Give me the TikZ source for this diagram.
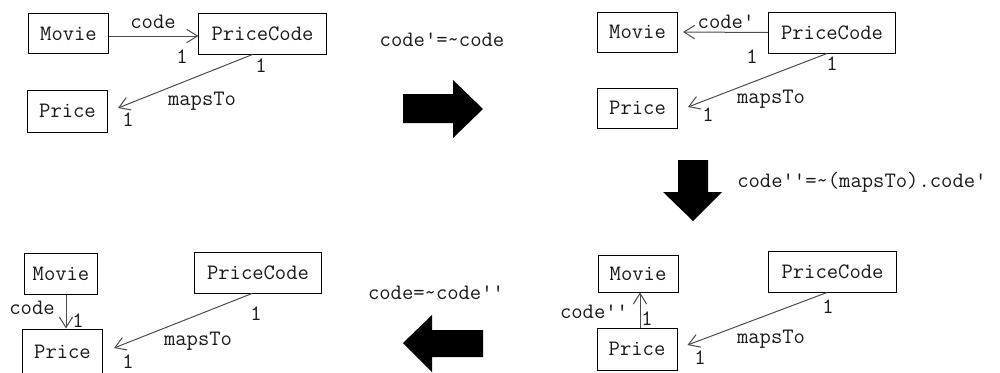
\documentclass[tikz,border=0pt]{standalone}
\usepackage{fontspec}
\usetikzlibrary{arrows.meta,calc}
% typewriter face used for every class name and label
\newcommand\umlfont{\ttfamily\fontsize{16.5}{18}\selectfont}
\begin{document}
\begin{tikzpicture}[x=0.75pt,y=-0.75pt,
  cls/.style={draw=black,line width=0.75pt,inner sep=0pt,font=\umlfont,text=black!90},
  movbox/.style={cls,minimum width=60pt,minimum height=30pt},
  pcbox/.style={cls,minimum width=95.5pt,minimum height=30.75pt},
  lbl/.style={inner sep=0pt,font=\umlfont,text=black!90},
  assoc/.style={draw=black!70,line width=0.75pt,-{Straight Barb[length=8pt,width=10pt]}},
  bigarrow/.style={fill=black,draw=none}]
\useasboundingbox (0,0) rectangle (1000,372);

% ---- step 1: Movie --code--> PriceCode --mapsTo--> Price
\node[movbox] (m1) at (68.5,33.5) {Movie};
\node[pcbox] (pc1) at (262.5,33.5) {PriceCode};
\node[movbox,minimum height=31.5pt] (p1) at (67.5,111) {Price};
\draw[assoc] ($(m1.east)+(0,2.5)$) -- ($(pc1.west)+(0,2.5)$);
\draw[assoc] ($(pc1.south)+(-10,0)$) -- ($(p1.east)+(10,-3)$);
\node[lbl] (c1) at (153,22) {code};
\node[lbl] (o1) at (182,57) {1};
\node[lbl] (o2) at (261,66) {1};
\node[lbl] (mt1) at (202,101) {mapsTo};
\node[lbl] (o3) at (128,120) {1};

% ---- big arrow to step 2
\node[lbl] (t1) at (442,40) {code'=\textasciitilde code};
\draw[bigarrow] (403,94) -- (453,94) -- (453,80) -- (483,109) -- (453,138) -- (453,123) -- (403,123) -- cycle;

% ---- step 2: Movie <--code'-- PriceCode
\node[movbox] (m2) at (637.5,32) {Movie};
\node[pcbox] (pc2) at (832,32.5) {PriceCode};
\node[movbox] (p2) at (637.5,108) {Price};
\draw[assoc] (pc2.west) -- ($(m2.east)+(5,0)$);
\draw[assoc] ($(pc2.south)+(-5,0)$) -- ($(p2.east)+(10,-1)$);
\node[lbl] (c2) at (726,22) {code'};
\node[lbl] (o4) at (752,57) {1};
\node[lbl] (o5) at (832,64) {1};
\node[lbl] (mt2) at (771,99) {mapsTo};
\node[lbl] (o6) at (708,115) {1};

% ---- big arrow down to step 3
\node[lbl,anchor=west] (t2) at (737,182) {code''=\textasciitilde (mapsTo).code'};
\draw[bigarrow] (678,160) -- (708,160) -- (708,192) -- (722,192) -- (693,221) -- (663,192) -- (678,192) -- cycle;

% ---- step 3: Price --code''--> Movie
\node[movbox,minimum height=27.75pt] (m3) at (638,273.5) {Movie};
\node[pcbox] (pc3) at (832.5,271.5) {PriceCode};
\node[movbox,minimum height=31.5pt] (p3) at (637,349) {Price};
\draw[assoc] ($(p3.north)+(3,0)$) -- ($(m3.south)+(2,0)$);
\draw[assoc] ($(pc3.south)+(-5.5,0)$) -- ($(p3.east)+(10,-4)$);
\node[lbl] (c3) at (594,312) {code''};
\node[lbl] (o7) at (647,319) {1};
\node[lbl] (o8) at (828,307) {1};
\node[lbl] (mt3) at (771,339) {mapsTo};
\node[lbl] (o9) at (700,358) {1};

% ---- big arrow back to step 4
\node[lbl] (t3) at (436,293) {code=\textasciitilde code''};
\draw[bigarrow] (483,330) -- (432,330) -- (432,315) -- (403,343) -- (432,372) -- (432,357) -- (483,357) -- cycle;

% ---- step 4: Movie --code--> Price
\node[movbox,minimum width=54.75pt,minimum height=30.75pt] (m4) at (61,273.5) {Movie};
\node[pcbox] (pc4) at (258,272.5) {PriceCode};
\node[movbox,minimum height=33.75pt] (p4) at (62.5,351.5) {Price};
\draw[assoc] ($(m4.south)+(5,0)$) -- ($(p4.north)+(3.5,0)$);
\draw[assoc] ($(pc4.south)+(-6,0)$) -- ($(p4.east)+(11,-3.5)$);
\node[lbl] (c4) at (32,308) {code};
\node[lbl] (o10) at (78,321) {1};
\node[lbl] (o11) at (256,314) {1};
\node[lbl] (mt4) at (198,341) {mapsTo};
\node[lbl] (o12) at (128,362) {1};
\end{tikzpicture}
\end{document}
